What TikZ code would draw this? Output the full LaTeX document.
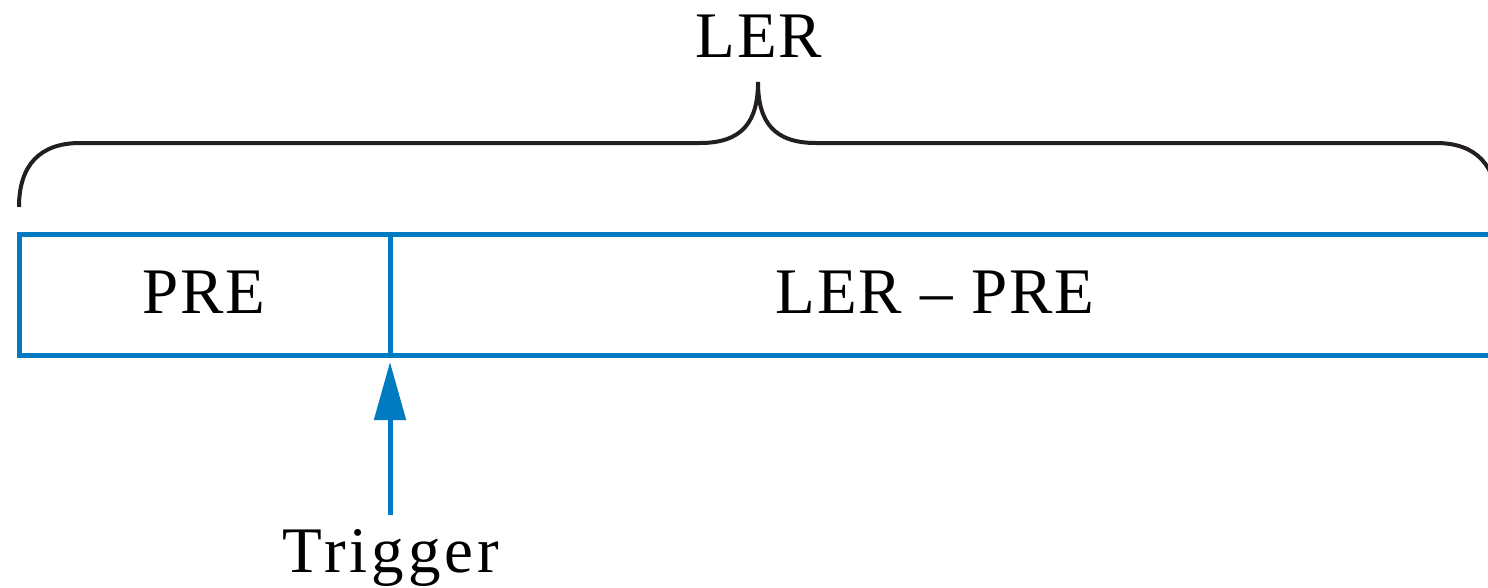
\documentclass[tikz,border=0pt]{standalone}
\usepackage{fontspec}
\setmainfont{Liberation Serif}[LetterSpace=3]
\usetikzlibrary{arrows.meta}
\definecolor{boxblue}{RGB}{0,122,192}
\definecolor{bracegray}{RGB}{35,31,32}
\begin{document}
\begin{tikzpicture}[x=1pt,y=-1pt,
  lbl/.style={anchor=base,inner sep=0pt,font=\fontsize{65}{70}\selectfont},
  bluebox/.style={draw=boxblue,line width=5pt,inner sep=0pt,outer sep=0pt,anchor=north west,minimum height=121pt},
  bracestyle/.style={draw=bracegray,line width=4pt},
  trig/.style={draw=boxblue,line width=5pt,shorten >=7pt,-{Triangle[length=58pt,width=31pt]}}]
\useasboundingbox (0,0) rectangle (1488,587);
\clip (0,0) rectangle (1488,587);
% boxes
\node[bluebox,minimum width=371pt] (pre) at (19,234) {};
\node[bluebox,minimum width=1110pt] (rest) at (390,234) {};
% labels
\node[lbl] (pret) at (204,313) {PRE};
\node[lbl] (restt) at (935,313) {LER -- PRE};
\node[lbl] (ler) at (759,57) {LER};
\node[lbl,font=\fontsize{65}{70}\selectfont\addfontfeature{LetterSpace=6}] (trig) at (391,572) {Trigger};
% brace
\coordinate (bl) at (19,207);
\coordinate (tip) at (758,82);
\coordinate (br) at (1497,207);
\draw[bracestyle] (bl) .. controls (19,165) and (40,143) .. (80,143) -- (700,143)
  .. controls (742,143) and (758,122) .. (tip)
  .. controls (758,122) and (774,143) .. (816,143) -- (1436,143)
  .. controls (1476,143) and (1497,165) .. (br);
% trigger arrow
\coordinate (tstart) at (390,515);
\draw[trig] (tstart) -- (pre.south east);
\end{tikzpicture}
\end{document}
